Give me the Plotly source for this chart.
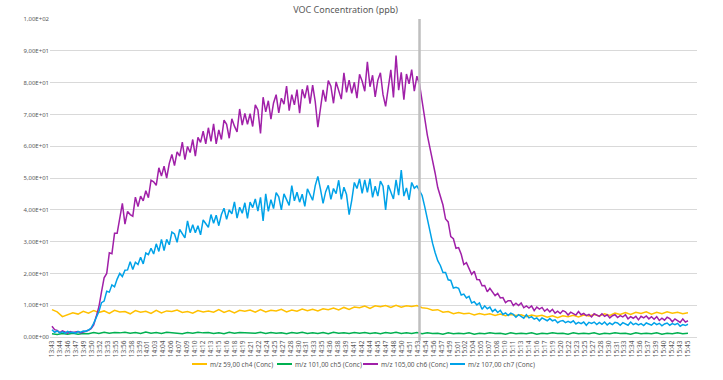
import numpy as np
import plotly.graph_objects as go

# ---------------- data ----------------
title_text = "VOC Concentration (ppb)"
series_names = ["m/z 59,00 ch4 (Conc)", "m/z 101,00 ch5 (Conc)",
                "m/z 105,00 ch6 (Conc)", "m/z 107,00 ch7 (Conc)"]

x_labels = ["13:43", "13:44", "13:46", "13:47", "13:49", "13:50", "13:52", "13:53", "13:55", "13:56",
            "13:58", "13:59", "14:01", "14:03", "14:04", "14:06", "14:07", "14:09", "14:10", "14:12",
            "14:13", "14:15", "14:16", "14:18", "14:19", "14:21", "14:22", "14:24", "14:25", "14:27",
            "14:28", "14:30", "14:31", "14:33", "14:35", "14:36", "14:38", "14:39", "14:41", "14:42",
            "14:44", "14:45", "14:47", "14:48", "14:50", "14:51", "14:53", "14:54", "14:56", "14:57",
            "14:59", "15:01", "15:02", "15:04", "15:05", "15:07", "15:08", "15:10", "15:11", "15:13",
            "15:14", "15:16", "15:17", "15:19", "15:20", "15:22", "15:23", "15:25", "15:27", "15:28",
            "15:30", "15:31", "15:33", "15:34", "15:36", "15:37", "15:39", "15:40", "15:42", "15:43",
            "15:45"]

y_tick_values = [0, 10, 20, 30, 40, 50, 60, 70, 80, 90, 100]
y_tick_labels = ["0,00E+00", "1,00E+01", "2,00E+01", "3,00E+01", "4,00E+01", "5,00E+01",
                 "6,00E+01", "7,00E+01", "8,00E+01", "9,00E+01", "1,00E+02"]

session_minutes = 122      # 13:43 -> 15:45
event_minute = 70.5        # vertical marker (~14:53)

# ch4 (yellow), one value per minute
ch4 = [8.6, 7.9, 6.4, 6.9, 7.6, 7.2, 8.1, 7.5, 8.3, 7.7,
       8.2, 7.4, 8.4, 7.9, 8.0, 7.3, 8.3, 7.8, 8.1, 7.4,
       8.4, 7.6, 8.2, 8.0, 8.5, 7.7, 8.0, 7.5, 8.3, 7.9,
       8.2, 7.8, 8.6, 7.7, 8.3, 7.6, 8.4, 8.1, 8.5, 7.8,
       8.6, 7.9, 8.4, 8.2, 8.7, 7.9, 8.5, 8.1, 8.8, 8.3,
       8.7, 8.2, 8.9, 8.6, 9.1, 8.5, 9.3, 8.7, 9.4, 9.2,
       9.7, 9.0, 9.8, 9.5, 9.9, 9.3, 10.0, 9.4, 9.8, 9.6,
       9.9, 9.2, 9.0, 8.4, 8.6, 7.8, 8.0, 7.3, 7.7, 7.3,
       7.5, 6.9, 7.4, 7.0, 7.3, 6.8, 7.2, 6.7, 7.1, 6.8,
       7.0, 6.4, 6.9, 6.5, 6.8, 6.2, 6.7, 6.1, 6.7, 6.4,
       6.8, 6.3, 6.9, 6.6, 7.1, 6.6, 7.3, 6.8, 7.5, 7.1,
       7.7, 7.1, 7.8, 7.4, 7.9, 7.2, 7.8, 7.3, 7.9, 7.5,
       7.8, 7.3, 7.6]

# ch5 (green), one value per minute
ch5 = [1.0, 0.8, 1.1, 0.9, 1.2, 0.9, 1.1, 1.0, 1.4, 1.1,
       1.5, 1.2, 1.4, 1.3, 1.5, 1.2, 1.4, 1.1, 1.6, 1.2,
       1.4, 1.1, 1.5, 1.3, 1.3, 1.0, 1.4, 1.2, 1.5, 1.3,
       1.4, 1.1, 1.3, 1.0, 1.5, 1.2, 1.4, 1.3, 1.3, 1.2,
       1.5, 1.1, 1.4, 1.2, 1.3, 1.0, 1.4, 1.2, 1.5, 1.1,
       1.3, 1.1, 1.4, 1.0, 1.5, 1.2, 1.3, 1.1, 1.4, 1.2,
       1.4, 1.1, 1.3, 1.0, 1.4, 1.2, 1.5, 1.1, 1.3, 1.1,
       1.4, 1.0, 1.3, 1.1, 1.2, 0.9, 1.3, 1.0, 1.2, 1.0,
       1.3, 0.9, 1.2, 1.0, 1.3, 1.1, 1.2, 0.9, 1.3, 1.0,
       1.2, 1.0, 1.3, 0.9, 1.2, 1.0, 1.3, 1.1, 1.2, 0.9,
       1.3, 1.0, 1.2, 1.0, 1.3, 0.9, 1.2, 1.0, 1.3, 1.1,
       1.2, 0.9, 1.3, 1.0, 1.2, 1.0, 1.3, 0.9, 1.2, 1.0,
       1.3, 1.0, 1.2]

# ch6 (purple), one value per half minute
ch6 = [3.4, 2.3, 2.1, 1.4, 1.9, 1.5, 1.2, 1.7, 1.4, 1.6,
       1.7, 1.3, 1.5, 1.8, 2.1, 2.6, 3.8, 6.5, 9.5, 14.2,
       18.6, 20.0, 26.5, 26.2, 32.6, 32.6, 37.3, 42.0, 35.5, 39.5,
       38.5, 38.0, 44.0, 41.0, 44.3, 42.8, 46.0, 43.8, 49.3, 48.8,
       47.7, 53.2, 50.6, 53.7, 50.0, 54.6, 57.4, 53.9, 58.2, 56.9,
       61.3, 55.8, 59.9, 58.0, 62.1, 56.9, 62.8, 61.2, 64.7, 60.7,
       65.8, 61.5, 67.0, 60.7, 65.1, 62.1, 68.2, 66.9, 62.5, 68.6,
       66.3, 64.5, 71.7, 66.6, 70.3, 66.9, 70.2, 66.2, 73.0, 71.4,
       64.0, 75.4, 70.8, 74.3, 68.5, 73.6, 76.2, 70.5, 75.1, 73.2,
       78.9, 71.2, 76.2, 73.0, 77.8, 70.4, 77.9, 75.1, 79.1, 73.4,
       79.2, 74.0, 66.0, 72.6, 77.7, 74.0, 80.6, 78.9, 73.5, 80.2,
       77.2, 74.8, 83.1, 76.9, 80.8, 76.6, 80.1, 75.1, 82.6, 80.4,
       77.3, 86.5, 78.7, 82.3, 75.5, 80.7, 83.1, 76.2, 72.5, 78.1,
       84.0, 75.3, 88.5, 77.6, 83.2, 74.6, 82.7, 79.6, 84.1, 77.3,
       82.0, 79.5, 74.0, 69.5, 63.5, 59.5, 56.0, 51.5, 47.0, 44.0,
       41.5, 37.1, 36.2, 31.6, 30.9, 27.9, 28.1, 26.0, 22.8, 23.4,
       21.3, 19.7, 20.7, 18.1, 18.0, 16.1, 16.2, 14.2, 15.3, 14.1,
       13.0, 13.7, 12.3, 12.4, 10.8, 11.4, 11.4, 9.9, 10.6, 9.9,
       10.7, 9.2, 9.8, 9.1, 9.8, 8.3, 9.4, 8.8, 9.3, 8.1,
       8.8, 7.9, 8.7, 7.5, 8.1, 7.4, 8.3, 7.9, 6.9, 7.8,
       7.3, 6.9, 8.0, 7.0, 7.4, 6.7, 7.1, 6.3, 7.3, 6.9,
       6.5, 7.3, 6.5, 7.0, 6.0, 6.7, 7.0, 6.1, 6.7, 6.3,
       7.0, 5.7, 6.4, 5.9, 6.5, 5.4, 6.5, 6.0, 6.6, 5.7,
       6.4, 5.6, 6.4, 5.2, 5.9, 5.3, 6.2, 5.8, 4.8, 5.7,
       5.1, 4.6, 5.7, 4.7, 5.1]

# ch7 (blue), one value per half minute
ch7 = [2.3, 1.5, 1.9, 1.3, 1.6, 1.2, 1.8, 1.4, 1.5, 1.2,
       1.7, 1.5, 1.9, 1.8, 2.2, 2.8, 4.3, 6.2, 8.0, 10.8,
       11.3, 14.4, 14.1, 16.4, 15.8, 18.2, 20.0, 19.0, 21.0, 21.1,
       23.7, 21.2, 23.5, 22.8, 25.1, 23.0, 26.4, 25.9, 27.9, 26.1,
       29.3, 26.9, 30.7, 27.2, 30.7, 29.0, 33.0, 32.4, 29.8, 33.8,
       32.5, 31.2, 36.5, 32.8, 35.3, 32.8, 35.0, 32.1, 36.8, 35.8,
       34.5, 38.5, 35.8, 38.3, 35.0, 38.5, 40.5, 37.0, 40.0, 38.7,
       42.5, 37.4, 40.8, 38.9, 42.2, 37.3, 42.4, 40.7, 43.4, 39.6,
       43.9, 36.5, 45.0, 39.5, 43.2, 40.4, 45.4, 44.1, 40.0, 45.0,
       42.9, 41.4, 47.6, 42.8, 45.5, 42.4, 44.9, 41.1, 46.6, 45.0,
       43.0, 47.6, 50.5, 46.5, 42.0, 45.7, 47.7, 43.3, 46.7, 45.1,
       49.3, 43.3, 47.1, 44.8, 38.5, 43.0, 48.6, 46.7, 49.7, 45.2,
       49.4, 45.5, 49.8, 43.9, 47.4, 44.3, 49.0, 47.4, 40.0, 47.8,
       45.4, 43.4, 49.4, 44.6, 52.5, 44.3, 46.9, 43.1, 48.6, 46.8,
       47.5, 46.0, 44.5, 41.0, 37.0, 33.0, 29.5, 26.5, 24.0, 22.5,
       20.3, 20.3, 18.0, 17.8, 15.4, 15.6, 15.3, 13.2, 13.5, 12.3,
       12.8, 10.7, 11.1, 10.1, 10.7, 8.7, 9.8, 8.9, 9.4, 8.0,
       8.7, 7.7, 8.4, 7.1, 7.6, 6.8, 7.5, 7.1, 6.2, 7.0,
       6.4, 5.9, 7.0, 6.0, 6.4, 5.6, 6.0, 5.1, 6.0, 5.6,
       5.1, 5.8, 5.1, 5.4, 4.5, 5.0, 5.2, 4.5, 4.9, 4.5,
       5.1, 4.1, 4.6, 4.2, 4.7, 3.7, 4.6, 4.3, 4.7, 3.9,
       4.6, 4.0, 4.7, 3.8, 4.4, 3.9, 4.6, 4.4, 3.7, 4.5,
       4.0, 3.7, 4.7, 3.9, 4.3, 3.8, 4.2, 3.6, 4.4, 4.1,
       3.7, 4.5, 3.9, 4.3, 3.5, 4.1, 4.4, 3.7, 4.2, 3.9,
       4.3, 3.4, 3.9, 3.6, 4.0]

colors = ["#FFC000", "#00B050", "#A020A8", "#00A2E8"]

# ---------------- layout constants (pixels) ----------------
W, H = 723, 380
ML, MR, MT, MB = 50, 26, 19, 43
plot_w = W - ML - MR
plot_h = H - MT - MB
legend_px = [192, 277, 363, 450]   # left end of each legend sample line
legend_y_px = 364

# ---------------- figure ----------------
t_min = np.linspace(0, session_minutes, len(ch4))
t_half = np.linspace(0, session_minutes, len(ch6))

fig = go.Figure()
for name, xs, ys, col in [(series_names[0], t_min, ch4, colors[0]),
                          (series_names[1], t_min, ch5, colors[1]),
                          (series_names[2], t_half, ch6, colors[2]),
                          (series_names[3], t_half, ch7, colors[3])]:
    fig.add_trace(go.Scatter(x=xs, y=ys, mode="lines", name=name, showlegend=False,
                             line=dict(color=col, width=1.5)))

tick_pos = np.linspace(0, session_minutes, len(x_labels))

fig.add_shape(type="line", xref="x", yref="paper", x0=event_minute, x1=event_minute,
              y0=-0.012, y1=1.0, line=dict(color="#BFBFBF", width=2.5), layer="above")

# legend drawn as sample lines + text, like the Excel legend
ly = (H - MB - legend_y_px) / plot_h
for name, col, px in zip(series_names, colors, legend_px):
    x0 = (px - ML) / plot_w
    x1 = (px + 15 - ML) / plot_w
    fig.add_shape(type="line", xref="paper", yref="paper", x0=x0, x1=x1, y0=ly, y1=ly,
                  line=dict(color=col, width=2))
    fig.add_annotation(xref="paper", yref="paper", x=x1 + 1 / plot_w, y=ly, text=name,
                       showarrow=False, xanchor="left", yanchor="middle",
                       font=dict(size=6.5, color="#595959"))

font_family = "Noto Sans, Open Sans, sans-serif"
fig.update_layout(
    width=W, height=H,
    margin=dict(l=ML, r=MR, t=MT, b=MB),
    paper_bgcolor="white", plot_bgcolor="white",
    title=dict(text=title_text, x=0.478, xanchor="center", y=0.974, yanchor="middle",
               font=dict(family=font_family, size=9, color="#595959")),
    font=dict(family=font_family, color="#595959"),
    showlegend=False,
    xaxis=dict(range=[-0.38, 123.73], tickmode="array", tickvals=tick_pos, ticktext=x_labels,
               tickangle=-90, tickfont=dict(size=6.5, color="#595959"),
               showgrid=False, zeroline=False, showline=True, linecolor="#D9D9D9",
               linewidth=1, ticks=""),
    yaxis=dict(range=[0, 100], tickmode="array", tickvals=y_tick_values, ticktext=y_tick_labels,
               tickfont=dict(size=6, color="#595959"), showgrid=True, gridcolor="#D9D9D9",
               gridwidth=1, zeroline=False, showline=False, ticks="", ticklen=0),
)

fig.write_html("out.html", config={"displayModeBar": False, "staticPlot": True},
               post_script="document.body.style.margin='0';document.body.style.overflow='hidden';")
